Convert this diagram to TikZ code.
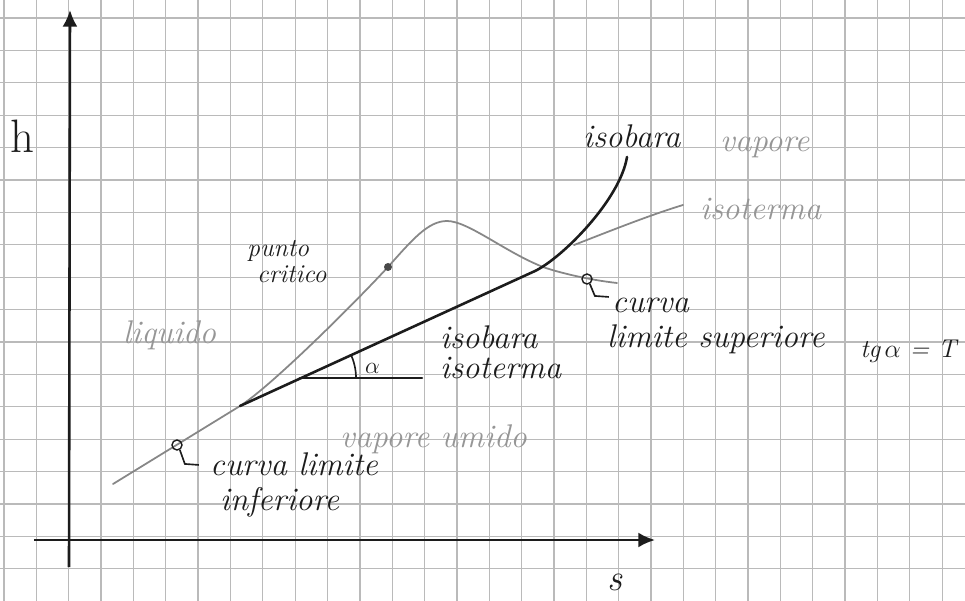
\documentclass[tikz,border=0pt]{standalone}
\usepackage{fix-cm}
\usepackage{amsmath}
\usepackage{fontspec}
\usepackage{xcolor}
\usepackage{tikz}
\usetikzlibrary{arrows.meta,positioning,calc}
\definecolor{inkDark}{RGB}{28,28,28}
\definecolor{pencilGray}{RGB}{135,135,135}
\definecolor{pencilText}{RGB}{150,150,150}
\definecolor{gridGray}{RGB}{186,186,186}
\tikzset{
  gridline/.style={draw=gridGray, line width=1.1pt},
  inkline/.style={draw=inkDark, line width=2.2pt, line cap=round},
  pencilline/.style={draw=pencilGray, line width=1.5pt, line cap=round},
  axisArrow/.style={-{Latex[length=5mm,width=4.5mm]}, draw=inkDark, line width=2.2pt},
  inklabel/.style={font=\fontsize{28}{30}\selectfont\itshape, text=inkDark, inner sep=0pt},
  pencillabel/.style={inklabel, text=pencilText},
  ring/.style={circle, draw=inkDark, line width=1.2pt, minimum size=3mm, inner sep=0pt},
  dotnode/.style={circle, fill=inkDark!80, minimum size=2.4mm, inner sep=0pt}
}

\begin{document}
\begin{tikzpicture}[x=0.03cm, y=-0.03cm]
  \useasboundingbox (0,0) rectangle (965,601);
  \fill[white] (0,0) rectangle (965,601);
  % quadretti del foglio
  \foreach \k in {0,...,29}
    \draw[gridline] ({4+32.35*\k},0) -- ({4+32.35*\k},601);
  \foreach \k in {0,...,18}
    \draw[gridline] (0,{18+32.4*\k}) -- (965,{18+32.4*\k});

  % assi h-s
  \coordinate (hBot) at (69,567);
  \coordinate (hTop) at (70,10);
  \coordinate (sLeft) at (34,540);
  \coordinate (sRight) at (655,540);
  \draw[axisArrow] (hBot) -- (hTop);
  \draw[axisArrow] (sLeft) -- (sRight);
  \node[inklabel, font=\fontsize{40}{42}\selectfont, anchor=base west] (hLbl) at (10,153) {h};
  \node[inklabel, font=\fontsize{32}{34}\selectfont\itshape, anchor=base west] (sLbl) at (607,590) {s};

  % curva limite
  \coordinate (cStart) at (113,484);
  \coordinate (cInf) at (177,445);
  \coordinate (cTan) at (240,406);
  \coordinate (cCrit) at (388,267);
  \coordinate (cPeak) at (447,221);
  \coordinate (cCross) at (543,267);
  \coordinate (cSup) at (587,279);
  \coordinate (cEnd) at (617,283);
  \draw[pencilline] (cStart) -- (cTan)
    .. controls (270,387) and (350,308) .. (cCrit)
    .. controls (412,240) and (428,221) .. (cPeak)
    .. controls (468,221) and (505,252) .. (cCross)
    .. controls (560,273) and (590,280) .. (cEnd);

  % isobara e isoterma
  \coordinate (isoBend) at (535,271);
  \coordinate (isoTop) at (627,157);
  \coordinate (isoFork) at (574,245);
  \coordinate (isoTh) at (683,205);
  \draw[inkline] (cTan) -- (isoBend) .. controls (562,258) and (620,200) .. (isoTop);
  \draw[pencilline] (isoFork) .. controls (610,231) and (650,215) .. (isoTh);

  % angolo alpha
  \coordinate (alphaO) at (300,378);
  \coordinate (alphaH) at (422,378);
  \draw[inkline] (alphaO) -- (alphaH);
  \draw[inkDark, line width=1.4pt] ($(alphaO)+(56,0)$) arc[start angle=0, end angle=-25, radius=56];
  \node[inklabel, font=\fontsize{20}{22}\selectfont, anchor=base west] (alphaLbl) at (365,373) {$\alpha$};

  % punti notevoli
  \node[ring] (ringInf) at (cInf) {};
  \node[ring] (ringSup) at (cSup) {};
  \node[dotnode] (critDot) at (cCrit) {};
  \draw[inkDark, line width=1.4pt] (ringInf.-60) -- ++(5,14) -- ++(14,1);
  \draw[inkDark, line width=1.4pt] (ringSup.-60) -- ++(5,12) -- ++(14,1);

  % scritte
  \node[inklabel, anchor=base west] (isobaraTop) at (583,148) {isobara};
  \node[pencillabel, anchor=base west] (vaporeLbl) at (720,152) {vapore};
  \node[pencillabel, anchor=base west] (isotermaTop) at (700,220) {isoterma};
  \node[inklabel, font=\fontsize{22}{24}\selectfont\itshape, anchor=base west] (puntoLbl) at (247,257) {punto};
  \node[inklabel, font=\fontsize{22}{24}\selectfont\itshape, anchor=base west] (criticoLbl) at (257,283) {critico};
  \node[inklabel, anchor=base west] (curvaSup) at (612,312) {curva};
  \node[inklabel, anchor=base west] (limSup) at (607,347) {limite superiore};
  \node[inklabel, font=\fontsize{22}{24}\selectfont\itshape, anchor=base west] (tgLbl) at (860,357) {tg\,$\alpha$ = T};
  \node[pencillabel, anchor=base west] (liquidoLbl) at (123,343) {liquido};
  \node[inklabel, anchor=base west] (isobaraLow) at (440,348) {isobara};
  \node[inklabel, anchor=base west] (isotermaLow) at (440,378) {isoterma};
  \node[pencillabel, anchor=base west] (umidoLbl) at (340,447) {vapore umido};
  \node[inklabel, anchor=base west] (curvaInf) at (210,475) {curva limite};
  \node[inklabel, anchor=base west] (infLbl) at (220,510) {inferiore};
\end{tikzpicture}
\end{document}
